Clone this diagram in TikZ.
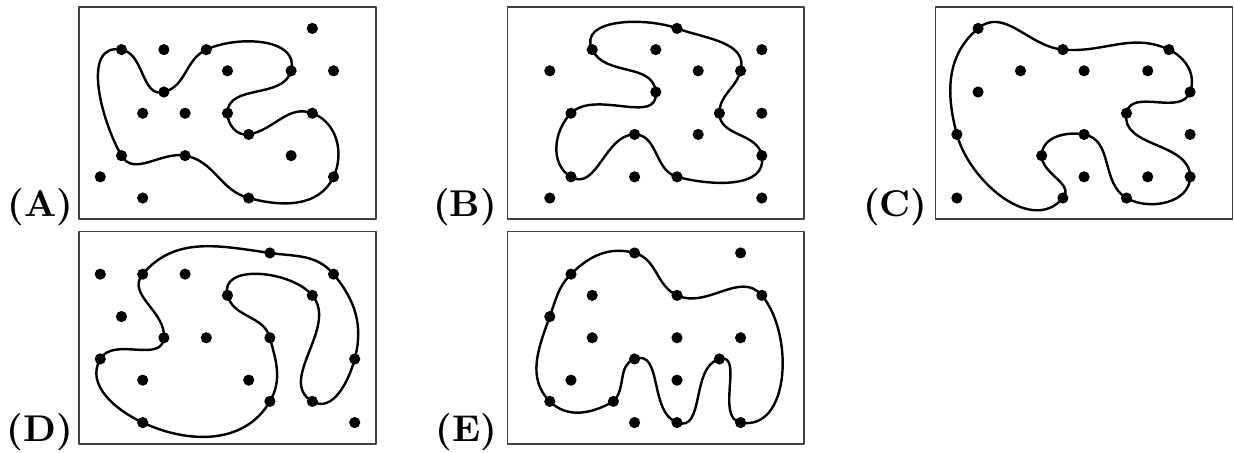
\documentclass[tikz,border=0pt]{standalone}
\begin{document}
\begin{tikzpicture}[x=0.2cm, y=0.2cm, line join=round, line cap=round,
    frame/.style={line width=0.4pt, draw=black!75},
    blob/.style={line width=0.65pt},
    tag/.style={anchor=base east, font=\bfseries, inner sep=0pt}]
  \useasboundingbox (0,0) rectangle (58.2,21.32);

  % Panel A
  \begin{scope}[shift={(3.73,10.98)}]
    \draw[frame] (0,0) rectangle (14,10);
    \node[tag] (labA) at (-0.25,0.12) {(A)};
    \draw[blob] (2,8) to[out=-10,in=195] (4,6) to[out=15,in=205] (6,8)
      to[out=25,in=75] (10,7) to[out=-105,in=90] (7,5) to[out=-90,in=190] (8,4)
      to[out=10,in=160] (11,5) to[out=-20,in=65] (12,2) to[out=-115,in=-15] (8,1)
      to[out=165,in=-10] (5,3) to[out=170,in=-60] (2,3) to[out=120,in=170] (2,8);
    \foreach \x/\y in {2/8,4/6,6/8,10/7,7/5,8/4,11/5,12/2,8/1,5/3,2/3,
                       11/9,4/8,7/7,12/7,3/5,5/5,10/3,1/2,3/1}
      \fill (\x,\y) circle (1.5pt);
  \end{scope}

  % Panel B
  \begin{scope}[shift={(23.93,10.98)}]
    \draw[frame] (0,0) rectangle (14,10);
    \node[tag] (labB) at (-0.45,0.12) {(B)};
    \draw[blob] (8,9) to[out=-20,in=75] (11,7) to[out=-105,in=90] (10,5)
      to[out=-90,in=100] (12,3) to[out=-80,in=-15] (8,2) to[out=165,in=0] (6,4)
      to[out=180,in=-30] (3,2) to[out=150,in=225] (3,5) to[out=45,in=-85] (7,6)
      to[out=95,in=-65] (4,8) to[out=115,in=160] (8,9);
    \foreach \x/\y in {8/9,11/7,10/5,12/3,8/2,6/4,3/2,3/5,7/6,4/8,
                       7/8,12/8,2/7,9/7,12/5,9/4,6/2,2/1,12/1}
      \fill (\x,\y) circle (1.5pt);
  \end{scope}

  % Panel C
  \begin{scope}[shift={(44.13,10.98)}]
    \draw[frame] (0,0) rectangle (14,10);
    \node[tag] (labC) at (-0.35,0.12) {(C)};
    \draw[blob] (2,9) to[out=40,in=175] (6,8) to[out=-5,in=155] (11,8)
      to[out=-25,in=70] (12,6) to[out=-110,in=80] (9,5) to[out=-100,in=90] (12,2)
      to[out=-90,in=-30] (9,1) to[out=150,in=-10] (7,4) to[out=170,in=90] (5,3)
      to[out=-90,in=50] (6,1) to[out=-130,in=-75] (1,4) to[out=105,in=220] (2,9);
    \foreach \x/\y in {2/9,6/8,11/8,12/6,9/5,12/2,9/1,7/4,5/3,6/1,1/4,
                       4/7,7/7,10/7,2/6,12/4,7/2,10/2,1/1}
      \fill (\x,\y) circle (1.5pt);
  \end{scope}

  % Panel D
  \begin{scope}[shift={(3.73,0.39)}]
    \draw[frame] (0,0) rectangle (14,10);
    \node[tag] (labD) at (-0.25,0.12) {(D)};
    \draw[blob] (3,8) to[out=50,in=172] (9,9) to[out=-8,in=130] (12,8)
      to[out=-50,in=75] (13,4) to[out=-105,in=-30] (11,2) to[out=150,in=-50] (11,7)
      to[out=130,in=105] (7,7) to[out=-75,in=105] (9,5) to[out=-75,in=60] (9,2)
      to[out=-120,in=-25] (3,1) to[out=155,in=240] (1,4) to[out=60,in=265] (4,5)
      to[out=85,in=230] (3,8);
    \foreach \x/\y in {3/8,9/9,12/8,13/4,11/2,11/7,7/7,9/5,9/2,3/1,1/4,4/5,
                       1/8,5/8,2/6,6/5,3/3,8/3,13/1}
      \fill (\x,\y) circle (1.5pt);
  \end{scope}

  % Panel E
  \begin{scope}[shift={(23.93,0.39)}]
    \draw[frame] (0,0) rectangle (14,10);
    \node[tag] (labE) at (-0.45,0.12) {(E)};
    \draw[blob] (6,9) to[out=-15,in=155] (8,7) to[out=-25,in=130] (12,7)
      to[out=-50,in=-10] (11,1) to[out=170,in=15] (10,4) to[out=195,in=-20] (8,1)
      to[out=160,in=20] (6,4) to[out=200,in=45] (5,2) to[out=210,in=-45] (2,2)
      to[out=135,in=250] (2,6) to[out=70,in=225] (3,8) to[out=45,in=165] (6,9);
    \foreach \x/\y in {6/9,8/7,12/7,11/1,10/4,8/1,6/4,5/2,2/2,2/6,3/8,
                       11/9,4/7,4/5,8/5,11/5,3/3,8/3,6/1}
      \fill (\x,\y) circle (1.5pt);
  \end{scope}
\end{tikzpicture}
\end{document}
